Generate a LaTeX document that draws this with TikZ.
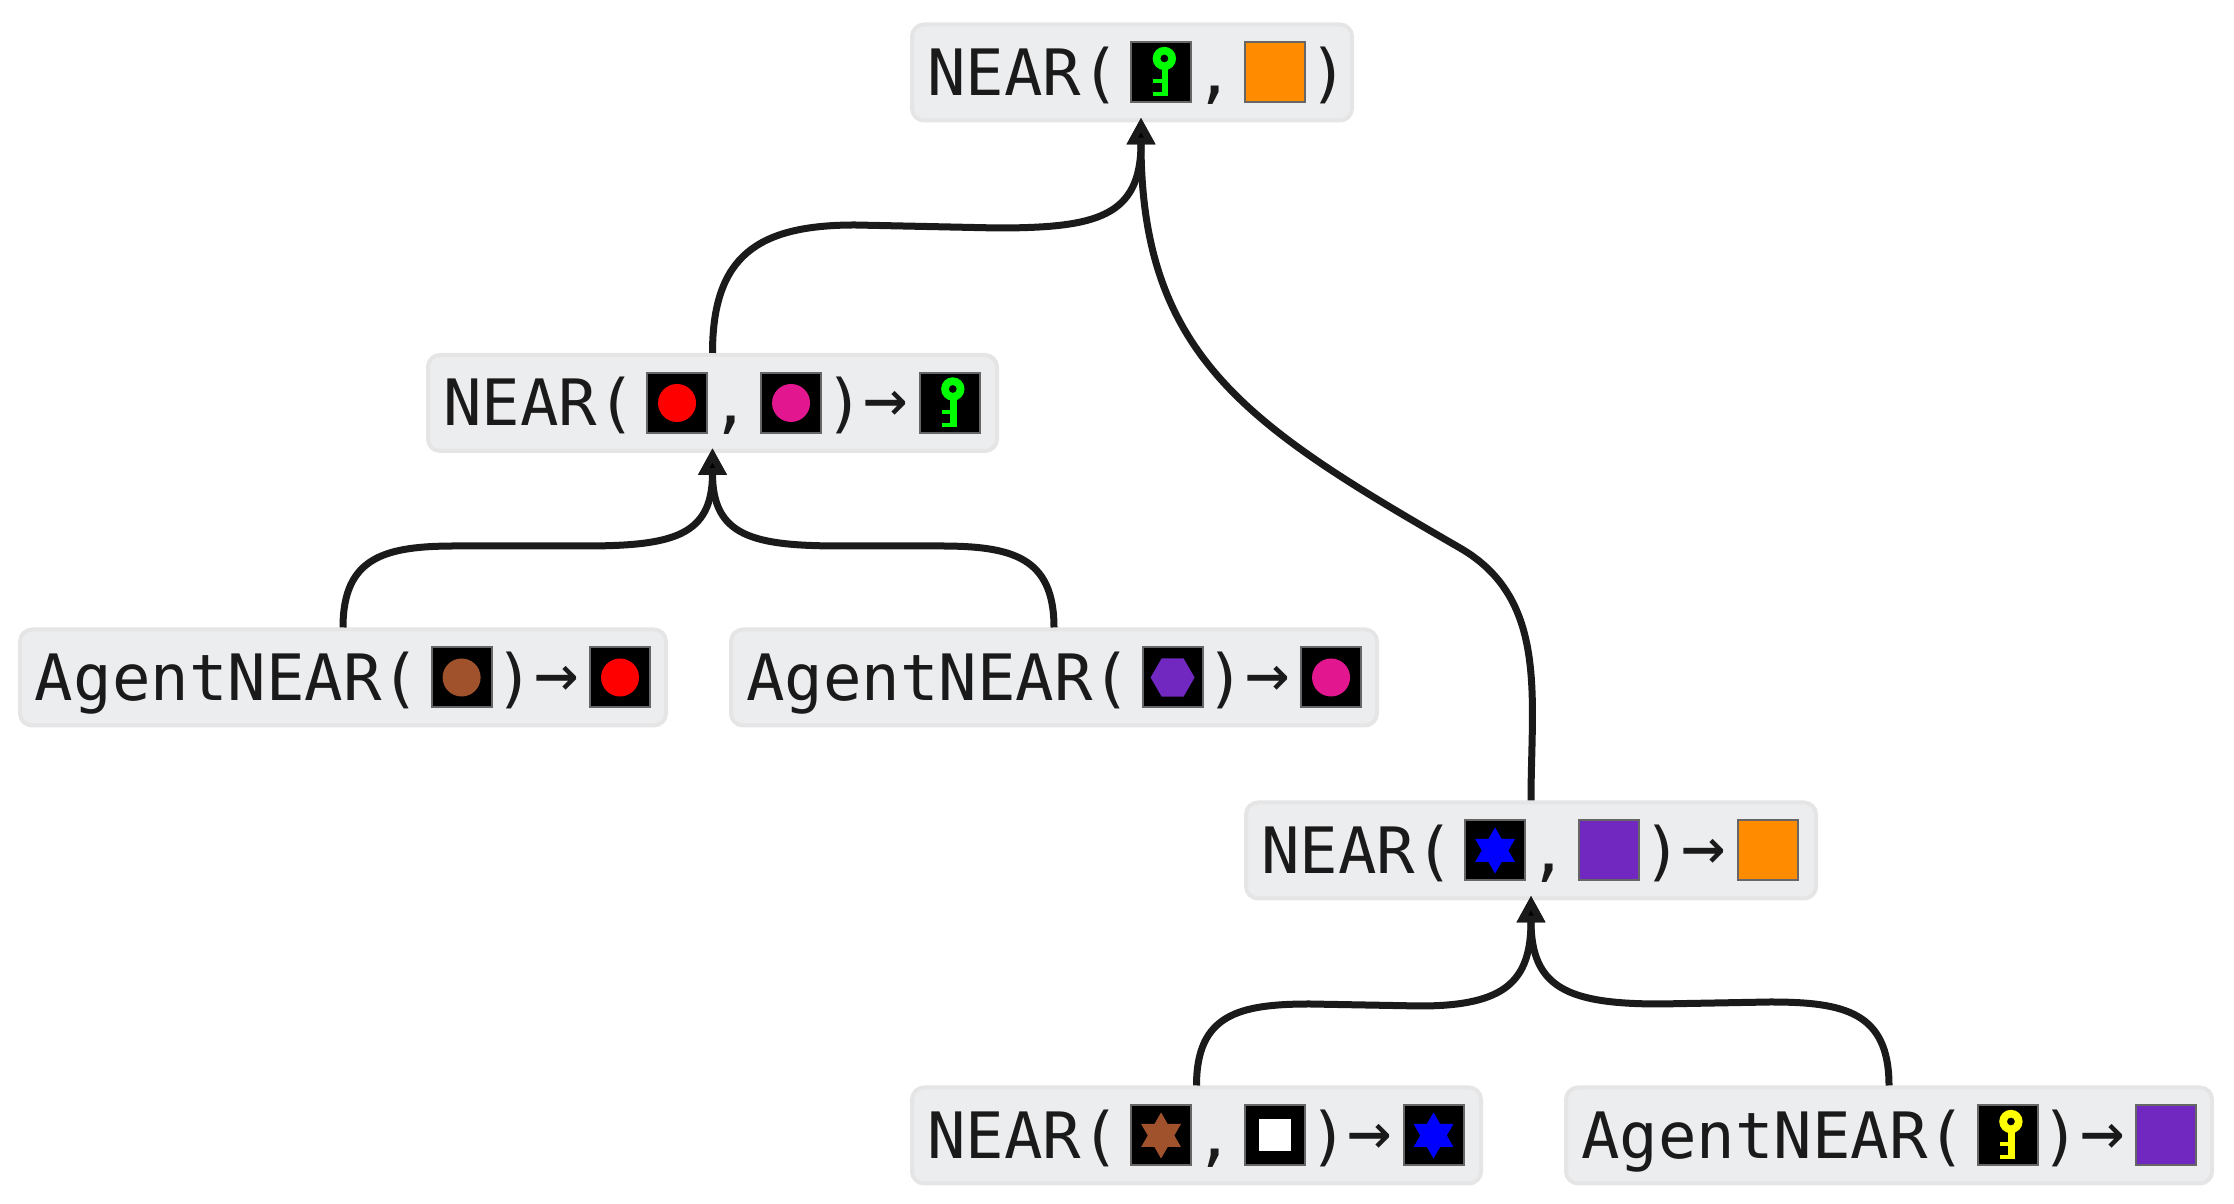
\documentclass[tikz,border=0pt]{standalone}
\usepackage{fontspec}
\usepackage{tikz}
\usetikzlibrary{arrows.meta}
\newfontfamily\cellfont{DejaVu Sans Mono}
\definecolor{inkc}{HTML}{1A1A1A}
\definecolor{boxfill}{HTML}{ECEDEF}
\definecolor{boxline}{HTML}{E5E5E6}
\definecolor{iconline}{HTML}{666666}
\definecolor{orangec}{HTML}{FF8C00}
\definecolor{purplec}{HTML}{7028C0}
\definecolor{pinkc}{HTML}{E2178F}
\definecolor{brownc}{HTML}{A0522D}
\definecolor{bluec}{HTML}{0000FF}
\definecolor{redc}{HTML}{FF0000}
\definecolor{greenc}{HTML}{00FF00}
\definecolor{yellowc}{HTML}{FFFF00}
\tikzset{
  cellbox/.style={draw=boxline,fill=boxfill,line width=.04cm,rounded corners=.12cm,
    inner xsep=0pt,inner ysep=0pt,minimum height=.96cm,text height=.58cm,text depth=.12cm,
    align=left,text=inkc,font=\cellfont\fontsize{18.2}{20}\selectfont},
  edgeline/.style={draw=inkc,line width=.07cm,-{Triangle[length=.27cm,width=.27cm]}}
}
% one small square of the row
\newcommand{\iconcell}[2]{\hspace{.11cm}\tikz[baseline={(0,-.23)},sharp corners]{%
  \path[use as bounding box] (-.305,-.305) rectangle (.305,.305);
  \fill[#1] (-.3,-.3) rectangle (.3,.3);
  #2
  \draw[iconline,line width=.02cm] (-.3,-.3) rectangle (.3,.3);}\hspace{.035cm}}
\newcommand{\keyicon}[1]{\iconcell{black}{%
  \fill[#1,even odd rule] (.033,.14) circle (.117) (.033,.14) circle (.04);
  \fill[#1] (.007,.05) rectangle (.073,-.24);
  \fill[#1] (-.077,-.067) rectangle (.01,-.107);
  \fill[#1] (-.077,-.2) rectangle (.01,-.24);}}
\newcommand{\roundicon}[1]{\iconcell{black}{\fill[#1] (0,0) circle (.19);}}
\newcommand{\staricon}[1]{\iconcell{black}{%
  \fill[#1] (90:.23) -- (210:.23) -- (330:.23) -- cycle;
  \fill[#1] (270:.23) -- (30:.23) -- (150:.23) -- cycle;}}
\newcommand{\hexicon}[1]{\iconcell{black}{%
  \fill[#1] (0:.22) -- (60:.22) -- (120:.22) -- (180:.22) -- (240:.22) -- (300:.22) -- cycle;}}
\newcommand{\plainicon}[1]{\iconcell{#1}{}}
\newcommand{\holeicon}{\iconcell{black}{\fill[white] (-.16,-.16) rectangle (.16,.16);}}
\newcommand{\startcell}{\hspace*{.15cm}}
\newcommand{\toarrow}{\raisebox{.02cm}{\fontsize{21}{20}\selectfont→}}
\begin{document}
\begin{tikzpicture}
\useasboundingbox (0,0) rectangle (22.34,12.04);

\node [cellbox,text width=4.40cm] (goal) at(11.32,11.315){\startcell NEAR(\keyicon{greenc},\plainicon{orangec})};
\node [cellbox,text width=5.69cm] (keynear) at(7.125,8.01){\startcell NEAR(\roundicon{redc},\roundicon{pinkc})\toarrow\keyicon{greenc}};
\node [cellbox,text width=6.46cm] (agentred) at(3.43,5.265){\startcell AgentNEAR(\roundicon{brownc})\toarrow\roundicon{redc}};
\node [cellbox,text width=6.46cm] (agentpink) at(10.54,5.265){\startcell AgentNEAR(\hexicon{purplec})\toarrow\roundicon{pinkc}};
\node [cellbox,text width=5.70cm] (doornear) at(15.31,3.535){\startcell NEAR(\staricon{bluec},\plainicon{purplec})\toarrow\plainicon{orangec}};
\node [cellbox,text width=5.69cm] (starnear) at(11.965,.685){\startcell NEAR(\staricon{brownc},\holeicon)\toarrow\staricon{bluec}};
\node [cellbox,text width=6.46cm] (agentkey) at(18.89,.685){\startcell AgentNEAR(\keyicon{yellowc})\toarrow\plainicon{purplec}};

\coordinate (goaltip) at ([xshift=.09cm,yshift=.05cm]goal.south);
\coordinate (keytip) at ([yshift=.05cm]keynear.south);
\coordinate (doortip) at ([yshift=.05cm]doornear.south);

\coordinate (a1) at(8.55,9.79);
\coordinate (a2) at(9.97,9.76);
\coordinate (b1) at(14.60,6.56);
\coordinate (c1) at(4.56,6.58);
\coordinate (c2) at(5.84,6.58);
\coordinate (d1) at(9.40,6.58);
\coordinate (d2) at(8.41,6.58);
\coordinate (e1) at(13.10,2.00);
\coordinate (e2) at(14.20,1.98);
\coordinate (f1) at(17.70,2.02);
\coordinate (f2) at(16.60,2.00);

\draw[edgeline](keynear.north) to[out=90,in=180,looseness=1.3] (a1) -- (a2) to[out=0,in=270,looseness=1.4] (goaltip);
\draw[edgeline](doornear.north) to[out=90,in=-30] (b1) to[out=150,in=270,looseness=1.15] (goaltip);
\draw[edgeline](agentred.north) to[out=90,in=180,looseness=1.3] (c1) -- (c2) to[out=0,in=270,looseness=1.4] (keytip);
\draw[edgeline](agentpink.north) to[out=90,in=0,looseness=1.3] (d1) -- (d2) to[out=180,in=270,looseness=1.4] (keytip);
\draw[edgeline](starnear.north) to[out=90,in=180,looseness=1.3] (e1) -- (e2) to[out=0,in=270,looseness=1.4] (doortip);
\draw[edgeline](agentkey.north) to[out=90,in=0,looseness=1.3] (f1) -- (f2) to[out=180,in=270,looseness=1.4] (doortip);

\end{tikzpicture}
\end{document}
